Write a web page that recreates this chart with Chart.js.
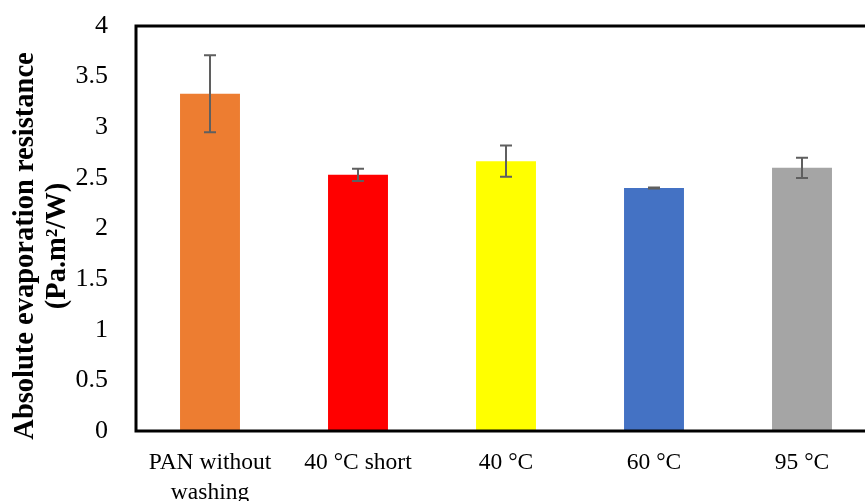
<!DOCTYPE html>
<html>
<head>
<meta charset="utf-8">
<script src="https://cdn.jsdelivr.net/npm/chart.js"></script>
<style>
  html, body { margin: 0; padding: 0; background: #fff; overflow: hidden; }
  #wrap { width: 880px; height: 501px; }
</style>
</head>
<body>
<div id="wrap"><canvas id="evapChart" width="880" height="501"></canvas></div>
<script>
// data
const categories = [["PAN without", "washing"], "40 °C short", "40 °C", "60 °C", "95 °C"];
const resistance = [3.33, 2.53, 2.665, 2.40, 2.60];
const resistanceErr = [0.38, 0.06, 0.155, 0.005, 0.10];
const barColors = ["#ED7D31", "#FF0000", "#FFFF00", "#4472C4", "#A5A5A5"];
const yTitleLines = ["Absolute evaporation resistance", "(Pa.m\u00B2/W)"];

const serif = "'Liberation Serif', 'Times New Roman', serif";

// error bars, drawn from the y scale
const errorBars = {
    id: "errorBars",
    afterDatasetsDraw(chart) {
        const ctx = chart.ctx;
        const y = chart.scales.y;
        const meta = chart.getDatasetMeta(0);
        ctx.save();
        ctx.strokeStyle = "#5f5f5f";
        ctx.lineWidth = 2;
        meta.data.forEach((bar, i) => {
            const v = resistance[i], e = resistanceErr[i];
            const top = y.getPixelForValue(v + e);
            const bot = y.getPixelForValue(v - e);
            const cap = 6;
            ctx.beginPath();
            ctx.moveTo(bar.x, top); ctx.lineTo(bar.x, bot);
            ctx.moveTo(bar.x - cap, top); ctx.lineTo(bar.x + cap, top);
            ctx.moveTo(bar.x - cap, bot); ctx.lineTo(bar.x + cap, bot);
            ctx.stroke();
        });
        ctx.restore();
    }
};

// black frame round the plot + y title
const frameAndTitle = {
    id: "frameAndTitle",
    afterDraw(chart) {
        const { ctx, chartArea: a } = chart;
        ctx.save();
        ctx.strokeStyle = "#000";
        ctx.lineWidth = 3;
        ctx.strokeRect(a.left, a.top, a.right - a.left, a.bottom - a.top);

        ctx.translate(0, 246);
        ctx.rotate(-Math.PI / 2);
        ctx.fillStyle = "#000";
        ctx.font = "bold 28.5px " + serif;
        ctx.textAlign = "center";
        ctx.textBaseline = "middle";
        ctx.fillText(yTitleLines[0], 0, 26);
        ctx.fillText(yTitleLines[1], 0, 58);
        ctx.restore();
    }
};

new Chart(document.getElementById("evapChart"), {
    type: "bar",
    data: {
        labels: categories,
        datasets: [{
            data: resistance,
            backgroundColor: barColors,
            borderWidth: 0,
            barPercentage: 0.405,
            categoryPercentage: 1
        }]
    },
    options: {
        responsive: false,
        animation: false,
        layout: { padding: { top: 26, right: 4, left: 0, bottom: 0 } },
        plugins: { legend: { display: false }, tooltip: { enabled: false } },
        scales: {
            x: {
                grid: { display: false, drawTicks: false },
                border: { display: false },
                ticks: {
                    color: "#000",
                    padding: 17,
                    maxRotation: 0,
                    font: { family: serif, size: 23.5, lineHeight: 1.28 }
                },
                afterFit(s) { s.height = 70; }
            },
            y: {
                min: 0,
                max: 4,
                grid: { display: true, drawOnChartArea: false, drawTicks: true, tickLength: 27, color: "rgba(0,0,0,0)" },
                border: { display: false },
                ticks: {
                    stepSize: 0.5,
                    color: "#000",
                    padding: 1,
                    font: { family: serif, size: 26 },
                    callback: v => String(v)
                },
                afterFit(s) { s.width = 136; }
            }
        }
    },
    plugins: [errorBars, frameAndTitle]
});
</script>
</body>
</html>
